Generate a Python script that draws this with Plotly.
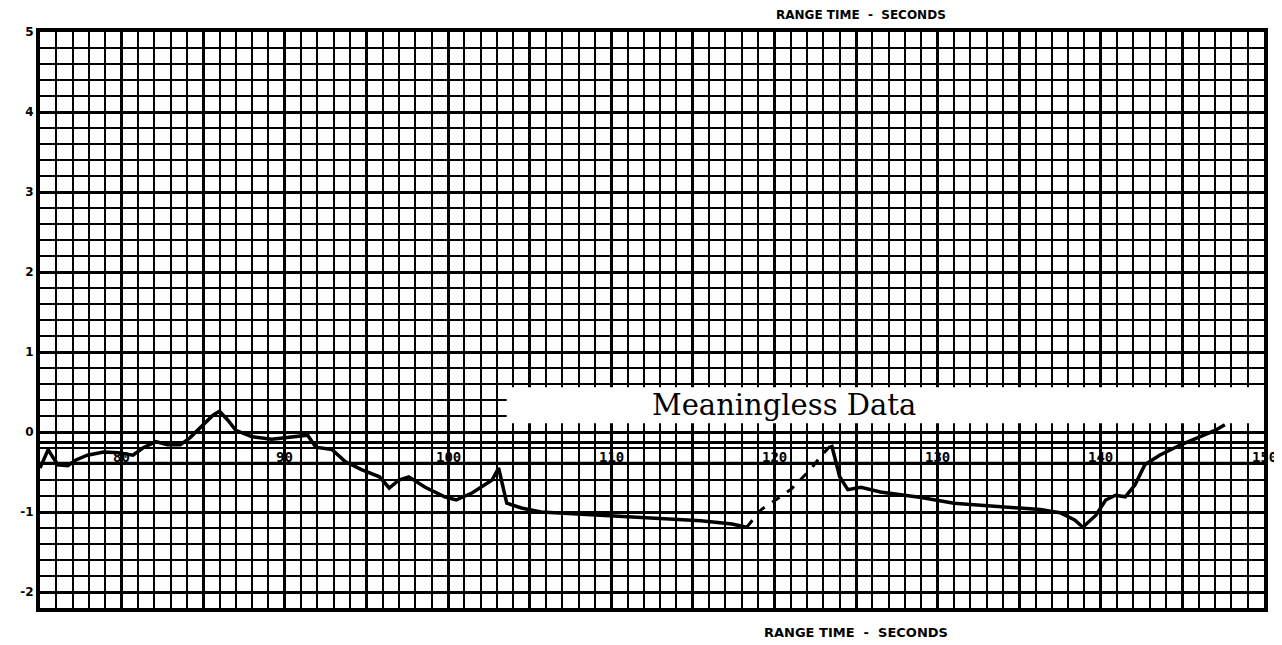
import plotly.graph_objects as go

# Solid trace segments (range time in seconds, value)
t_a = [75.0, 75.5, 75.8, 76.1, 76.7, 77.2, 77.9, 78.9, 79.8, 80.7, 81.3, 82.1, 82.8, 83.6,
       84.2, 85.0, 85.6, 86.0, 86.5, 87.0, 88.0, 89.2, 90.2, 90.9, 91.4, 91.9, 92.9, 93.7,
       94.7, 95.8, 96.4, 97.0, 97.6, 98.6, 99.8, 100.5, 101.5, 102.7, 103.1, 103.6, 104.5,
       105.7, 109.4, 112.5, 115.5, 117.4, 118.3]
v_a = [-0.45, -0.22, -0.32, -0.41, -0.42, -0.35, -0.29, -0.25, -0.26, -0.29, -0.20, -0.12,
       -0.16, -0.16, -0.07, 0.09, 0.21, 0.26, 0.15, 0.02, -0.06, -0.09, -0.07, -0.06, -0.04,
       -0.19, -0.22, -0.37, -0.47, -0.56, -0.70, -0.60, -0.56, -0.69, -0.81, -0.85, -0.76,
       -0.60, -0.45, -0.89, -0.95, -1.00, -1.04, -1.07, -1.11, -1.15, -1.19]

t_dash = [118.3, 119.2, 121.0, 122.2, 122.9, 123.5]
v_dash = [-1.19, -0.97, -0.72, -0.47, -0.29, -0.16]

t_b = [123.5, 124.0, 124.5, 125.3, 126.5, 129.0, 131.0, 134.7, 136.3, 137.5, 138.4, 138.9,
       139.7, 140.3, 140.9, 141.5, 142.1, 142.7, 143.6, 144.9, 146.1, 147.0, 147.6]
v_b = [-0.16, -0.56, -0.72, -0.69, -0.75, -0.82, -0.89, -0.94, -0.97, -1.01, -1.10, -1.19,
       -1.04, -0.85, -0.79, -0.81, -0.66, -0.41, -0.29, -0.16, -0.06, 0.02, 0.09]

x_tick_vals = [80, 90, 100, 110, 120, 130, 140, 150]
x_tick_text = ["80", "90", "100", "110", "120", "130", "140", "150"]
y_tick_vals = [-2, -1, 0, 1, 2, 3, 4, 5]
y_tick_text = ["-2", "-1", "0", "1", "2", "3", "4", "5"]

x_range = [75, 150]
y_range = [-2.2, 5.0]
label_row_y = -0.31
note_text = "Meaningless Data"
axis_title = "RANGE TIME  -  SECONDS"

fig = go.Figure()
fig.add_trace(go.Scatter(x=t_a, y=v_a, mode="lines",
                         line=dict(color="black", width=3.5), showlegend=False))
fig.add_trace(go.Scatter(x=t_dash, y=v_dash, mode="lines",
                         line=dict(color="black", width=3, dash="dash"), showlegend=False))
fig.add_trace(go.Scatter(x=t_b, y=v_b, mode="lines",
                         line=dict(color="black", width=3.5), showlegend=False))

# white masked box for the note
fig.add_shape(type="rect", xref="x", yref="y", x0=103.6, x1=150, y0=0.11, y1=0.56,
              fillcolor="white", line=dict(width=0), layer="between")
fig.add_annotation(x=120.6, y=0.34, xref="x", yref="y", text=note_text, showarrow=False,
                   xanchor="center",
                   font=dict(family="DejaVu Serif", size=29, color="black"))

# heavy lines bounding the label row
for yy in [-0.13, -0.39]:
    fig.add_shape(type="line", xref="paper", yref="y", x0=0, x1=1, y0=yy, y1=yy,
                  line=dict(color="black", width=3), layer="between")

for xv, xt in zip(x_tick_vals, x_tick_text):
    fig.add_annotation(x=xv, y=label_row_y, xref="x", yref="y", text="<b>%s</b>" % xt,
                       showarrow=False, xanchor="center",
                       font=dict(family="DejaVu Sans Mono", size=14, color="black"))

# axis titles (bottom, and the partly visible copy at the top)
fig.add_annotation(x=0.667, y=-24 / 576, xref="paper", yref="paper", text="<b>%s</b>" % axis_title,
                   showarrow=False, xanchor="center", yanchor="middle",
                   font=dict(family="DejaVu Sans", size=13, color="black"))
fig.add_annotation(x=0.671, y=1 + 17 / 576, xref="paper", yref="paper", text="<b>%s</b>" % axis_title,
                   showarrow=False, xanchor="center", yanchor="middle",
                   font=dict(family="DejaVu Sans", size=12, color="black"))

fig.update_layout(
    width=1282, height=645,
    margin=dict(l=29, r=26, t=24, b=45),
    paper_bgcolor="white", plot_bgcolor="white",
    font=dict(family="DejaVu Sans", color="black"),
    xaxis=dict(range=x_range, dtick=5, tick0=75, showgrid=True, gridcolor="black", gridwidth=3.2,
               minor=dict(dtick=1, showgrid=True, gridcolor="black", gridwidth=2),
               showticklabels=False, ticks="", zeroline=False,
               showline=True, linecolor="black", linewidth=4, mirror=True),
    yaxis=dict(range=y_range, tickvals=y_tick_vals, ticktext=["<b>%s</b>" % s for s in y_tick_text],
               showgrid=True, gridcolor="black", gridwidth=2.6,
               minor=dict(dtick=0.2, tick0=0, showgrid=True, gridcolor="black", gridwidth=2),
               ticks="", zeroline=False, tickfont=dict(size=12, color="black"),
               showline=True, linecolor="black", linewidth=4, mirror=True),
)

fig.write_html("out.html")
